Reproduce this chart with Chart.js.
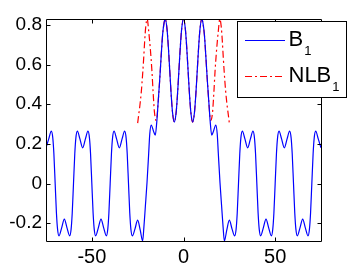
<!DOCTYPE html>
<html>
<head>
<meta charset="utf-8">
<script src="https://cdn.jsdelivr.net/npm/chart.js@4.4.0/dist/chart.umd.min.js"></script>
<style>
html, body { margin: 0; padding: 0; background: #fff; }
</style>
</head>
<body>
<canvas id="chart" width="355" height="271"></canvas>
<script>
// values
var b1X = [
    -75, -73.5, -72.1, -71.3, -70.7, -70, -69.3, -68.7, -67.9, -66.5,
    -65, -63.5, -62.1, -61.3, -60.7, -60, -59.3, -58.7, -57.9, -56.5,
    -55, -53.5, -52.1, -51.3, -50.7, -50, -49.3, -48.7, -47.9, -46.5,
    -45, -43.5, -42.1, -41.3, -40.7, -40, -39.3, -38.7, -37.9, -36.5,
    -35, -33.5, -32.1, -31.3, -30.7, -30, -29.3, -28.7, -27.9, -26.5,
    -25, -23.6, -22.3, -21.6, -20.8, -19.9, -19, -18.4, -17.6, -16.4,
    -15.4, -14.5, -13.9, -13, -12.2, -11.4, -10.6, -10, -9, -8.2,
    -7.5, -6.8, -6, -5, -4, -3.2, -2.5, -1.8, -1,
    0,
    1, 1.8, 2.5, 3.2, 4, 5, 6, 6.8, 7.5,
    8.2, 9, 10, 10.6, 11.4, 12.2, 13, 13.9, 14.5, 15.4,
    16.4, 17.6, 18.4, 19, 19.9, 20.8, 21.6, 22.3, 23.6, 25,
    26.5, 27.9, 28.7, 29.3, 30, 30.7, 31.3, 32.1, 33.5, 35,
    36.5, 37.9, 38.7, 39.3, 40, 40.7, 41.3, 42.1, 43.5, 45,
    46.5, 47.9, 48.7, 49.3, 50, 50.7, 51.3, 52.1, 53.5, 55,
    56.5, 57.9, 58.7, 59.3, 60, 60.7, 61.3, 62.1, 63.5, 65,
    66.5, 67.9, 68.7, 69.3, 70, 70.7, 71.3, 72.1, 73.5, 75
];
var b1Y = [
    0.18, 0.225, 0.264, 0.23, 0.15, 0, -0.15, -0.23, -0.264, -0.225,
    -0.18, -0.225, -0.264, -0.23, -0.15, 0, 0.15, 0.23, 0.264, 0.225,
    0.18, 0.225, 0.264, 0.23, 0.15, 0, -0.15, -0.23, -0.264, -0.225,
    -0.18, -0.225, -0.264, -0.23, -0.15, 0, 0.15, 0.23, 0.264, 0.225,
    0.18, 0.225, 0.264, 0.23, 0.15, 0, -0.15, -0.23, -0.264, -0.23,
    -0.185, -0.235, -0.29, -0.22, -0.115, 0.005, 0.15, 0.25, 0.295, 0.265,
    0.244, 0.32, 0.40, 0.52, 0.64, 0.75, 0.81, 0.83, 0.78, 0.68,
    0.57, 0.46, 0.36, 0.31, 0.36, 0.46, 0.57, 0.68, 0.78,
    0.83,
    0.78, 0.68, 0.57, 0.46, 0.36, 0.31, 0.36, 0.46, 0.57,
    0.68, 0.78, 0.83, 0.81, 0.75, 0.64, 0.52, 0.40, 0.32, 0.244,
    0.265, 0.295, 0.25, 0.15, 0.005, -0.115, -0.22, -0.29, -0.235, -0.185,
    -0.23, -0.264, -0.23, -0.15, 0, 0.15, 0.23, 0.264, 0.225, 0.18,
    0.225, 0.264, 0.23, 0.15, 0, -0.15, -0.23, -0.264, -0.225, -0.18,
    -0.225, -0.264, -0.23, -0.15, 0, 0.15, 0.23, 0.264, 0.225, 0.18,
    0.225, 0.264, 0.23, 0.15, 0, -0.15, -0.23, -0.264, -0.225, -0.18,
    -0.225, -0.264, -0.23, -0.15, 0, 0.15, 0.23, 0.264, 0.225, 0.18
];
var nlbX = [
    -25, -24.4, -23.9, -23, -22.3, -21.7, -21.2, -20.6, -19.8, -19,
    -18.1, -17.2, -16.6, -15.9, -15.4, -15, -14.5,
    -13.9, -13, -12.2, -11.4, -10.6, -10, -9, -8.2,
    -7.5, -6.8, -6, -5, -4, -3.2, -2.5, -1.8, -1,
    0,
    1, 1.8, 2.5, 3.2, 4, 5, 6, 6.8, 7.5,
    8.2, 9, 10, 10.6, 11.4, 12.2, 13, 13.9,
    14.5, 15, 15.4, 15.9, 16.6, 17.2, 18.1, 19, 19.8, 20.6,
    21.2, 21.7, 22.3, 23, 23.9, 24.4, 25
];
var nlbY = [
    0.305, 0.35, 0.385, 0.465, 0.55, 0.635, 0.715, 0.79, 0.83, 0.77,
    0.68, 0.565, 0.465, 0.365, 0.33, 0.318, 0.33,
    0.40, 0.52, 0.64, 0.75, 0.81, 0.83, 0.78, 0.68,
    0.57, 0.46, 0.36, 0.31, 0.36, 0.46, 0.57, 0.68, 0.78,
    0.83,
    0.78, 0.68, 0.57, 0.46, 0.36, 0.31, 0.36, 0.46, 0.57,
    0.68, 0.78, 0.83, 0.81, 0.75, 0.64, 0.52, 0.40,
    0.33, 0.318, 0.33, 0.365, 0.465, 0.565, 0.68, 0.77, 0.83, 0.79,
    0.715, 0.635, 0.55, 0.465, 0.385, 0.35, 0.305
];
var xTicks = [-50, 0, 50];
var yTicks = [-0.2, 0, 0.2, 0.4, 0.6, 0.8];
var legendNames = ['B', 'NLB'];
var legendSubs = ['1', '1'];
var legendColors = ['#0000ff', '#ff0000'];
var legendDashes = [[], [7, 3, 2, 3]];

var fontFamily = "'Liberation Sans', Arial, sans-serif";
var tickLen = 4;

function toPoints(xs, ys) {
    var pts = [];
    for (var i = 0; i < xs.length; i++) {
        pts.push({x: xs[i], y: ys[i]});
    }
    return pts;
}

// box round the axes with inward ticks, then the legend on top
var matlabBox = {
    id: 'matlabBox',
    afterDatasetsDraw: function(chart) {
        var ctx = chart.ctx;
        var a = chart.chartArea;
        var xs = chart.scales.x;
        var ys = chart.scales.y;
        var l = Math.round(a.left) + 0.5, r = Math.round(a.right) + 0.5;
        var t = Math.round(a.top) + 0.5, b = Math.round(a.bottom) + 0.5;
        ctx.save();
        ctx.strokeStyle = '#000';
        ctx.lineWidth = 1;
        ctx.beginPath();
        ctx.moveTo(l, t); ctx.lineTo(r, t); ctx.lineTo(r, b); ctx.lineTo(l, b); ctx.closePath();
        xTicks.forEach(function(v) {
            var px = Math.round(xs.getPixelForValue(v)) + 0.5;
            ctx.moveTo(px, b); ctx.lineTo(px, b - tickLen);
            ctx.moveTo(px, t); ctx.lineTo(px, t + tickLen);
        });
        yTicks.forEach(function(v) {
            var py = Math.round(ys.getPixelForValue(v)) + 0.5;
            ctx.moveTo(l, py); ctx.lineTo(l + tickLen, py);
            ctx.moveTo(r, py); ctx.lineTo(r - tickLen, py);
        });
        ctx.stroke();
        ctx.restore();
    },
    afterDraw: function(chart) {
        var ctx = chart.ctx;
        ctx.save();
        ctx.fillStyle = '#fff';
        ctx.fillRect(237, 21, 110, 77);
        ctx.strokeStyle = '#000';
        ctx.lineWidth = 1;
        ctx.strokeRect(237.5, 21.5, 109, 76);
        var rows = [40.5, 76.5];
        for (var i = 0; i < legendNames.length; i++) {
            ctx.beginPath();
            ctx.strokeStyle = legendColors[i];
            ctx.setLineDash(legendDashes[i]);
            ctx.moveTo(245, rows[i]);
            ctx.lineTo(285, rows[i]);
            ctx.stroke();
            ctx.setLineDash([]);
            ctx.fillStyle = '#000';
            ctx.textBaseline = 'alphabetic';
            ctx.textAlign = 'left';
            ctx.font = '22px ' + fontFamily;
            ctx.fillText(legendNames[i], 288.5, rows[i] + 5);
            var w = ctx.measureText(legendNames[i]).width;
            ctx.font = '13px ' + fontFamily;
            ctx.fillText(legendSubs[i], 288.5 + w + 1, rows[i] + 14);
        }
        ctx.restore();
    }
};

var ctx = document.getElementById('chart').getContext('2d');
var chart = new Chart(ctx, {
    type: 'line',
    data: {
        datasets: [
            {
                label: 'B1',
                data: toPoints(b1X, b1Y),
                borderColor: '#0000ff',
                borderWidth: 1.2,
                pointRadius: 0,
                fill: false,
                cubicInterpolationMode: 'monotone',
                order: 1
            },
            {
                label: 'NLB1',
                data: toPoints(nlbX, nlbY),
                borderColor: '#ff0000',
                borderWidth: 1.2,
                borderDash: [7, 3, 2, 3],
                pointRadius: 0,
                fill: false,
                cubicInterpolationMode: 'monotone',
                order: 2
            }
        ]
    },
    options: {
        responsive: false,
        devicePixelRatio: 1,
        animation: false,
        layout: {
            padding: {left: 0, right: 34, top: 19, bottom: 0}
        },
        plugins: {
            legend: {display: false},
            tooltip: {enabled: false}
        },
        scales: {
            'x': {
                type: 'linear',
                min: -75,
                max: 75,
                grid: {display: false, drawTicks: false},
                border: {display: false},
                afterBuildTicks: function(scale) {
                    scale.ticks = xTicks.map(function(v) { return {value: v}; });
                },
                afterFit: function(scale) {
                    scale.height = 30;
                },
                ticks: {
                    color: '#000',
                    padding: 4,
                    maxRotation: 0,
                    autoSkip: false,
                    font: {family: fontFamily, size: 20},
                    callback: function(value) { return String(value); }
                }
            },
            'y': {
                type: 'linear',
                min: -0.29,
                max: 0.83,
                grid: {display: false, drawTicks: false},
                border: {display: false},
                afterBuildTicks: function(scale) {
                    scale.ticks = yTicks.map(function(v) { return {value: v}; });
                },
                afterFit: function(scale) {
                    scale.width = 46;
                },
                ticks: {
                    color: '#000',
                    padding: 4,
                    autoSkip: false,
                    font: {family: fontFamily, size: 19},
                    callback: function(value) { return String(value); }
                }
            }
        }
    },
    plugins: [matlabBox]
});
</script>
</body>
</html>
